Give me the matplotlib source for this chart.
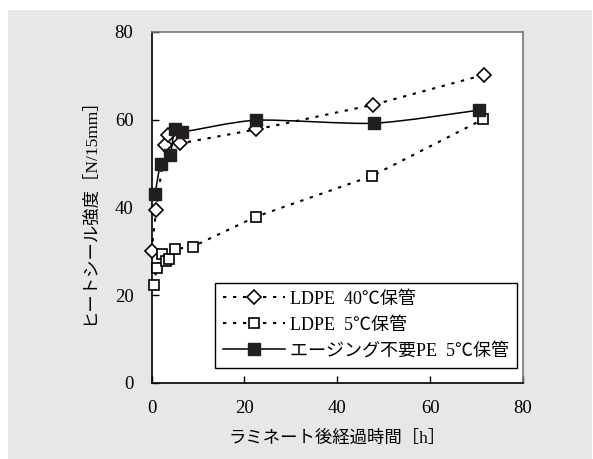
import numpy as np
import matplotlib
matplotlib.use("Agg")
import matplotlib.pyplot as plt
from matplotlib.patches import PathPatch
from matplotlib.path import Path
from matplotlib.lines import Line2D

plt.rcParams['font.family'] = ['Liberation Serif', 'Noto Sans CJK JP', 'DejaVu Sans']

# LDPE stored at 40 C
ldpe40_x = [0, 1, 2.9, 3.6, 6.1, 22.6, 47.7, 71.5]
ldpe40_y = [30, 39.5, 54.2, 56.5, 54.6, 57.8, 63.4, 70.2]

# LDPE stored at 5 C
ldpe5_x = [0.5, 1.1, 2.2, 3.1, 3.8, 5.1, 8.9, 22.5, 47.5, 71.4]
ldpe5_y = [22.3, 26.3, 29.4, 27.9, 28.2, 30.5, 31.1, 37.9, 47.2, 60.1]

# aging-free PE stored at 5 C
agefree_x = [0.75, 2.0, 4.0, 5.0, 6.5, 22.6, 47.9, 70.6]
agefree_y = [43.0, 50.0, 52.0, 58.0, 57.2, 59.9, 59.2, 62.2]

labels = ['LDPE  40℃保管', 'LDPE  5℃保管', 'エージング不要PE  5℃保管']
ticks = [0, 20, 40, 60, 80]


def smooth_path(xs, ys, t=0.12):
    # Excel-like smoothed line: cubic bezier through the points
    p = np.column_stack([xs, ys]).astype(float)
    verts = [p[0]]
    codes = [Path.MOVETO]
    n = len(p)
    for i in range(n - 1):
        p0 = p[i - 1] if i > 0 else p[i]
        p3 = p[i + 2] if i + 2 < n else p[i + 1]
        c1 = p[i] + (p[i + 1] - p0) * t
        c2 = p[i + 1] - (p3 - p[i]) * t
        verts += [c1, c2, p[i + 1]]
        codes += [Path.CURVE4] * 3
    return Path(verts, codes)


fig = plt.figure(figsize=(5.93, 4.59), dpi=100, facecolor='white')
bg = fig.add_axes([8 / 593, 0, 1 - 9 / 593, 1 - 10 / 459], facecolor='#e6e7e8')
bg.set_xticks([])
bg.set_yticks([])
for s in bg.spines.values():
    s.set_visible(False)
bg.set_zorder(-5)

ax = fig.add_axes([0.2555, 0.1656, 0.6265, 0.7647], facecolor='white')
ax.set_xlim(0, 80)
ax.set_ylim(0, 80)

dot = (0, (1.6, 3.2))
ax.plot(ldpe40_x, ldpe40_y, linestyle=dot, color='black', lw=1.5,
        marker='D', ms=7.3, mfc='white', mec='black', mew=1.2, zorder=3,
        clip_on=False)
ax.plot(ldpe5_x, ldpe5_y, linestyle=dot, color='black', lw=1.5,
        marker='s', ms=7.8, mfc='white', mec='black', mew=1.2, zorder=3,
        clip_on=False)
ax.add_patch(PathPatch(smooth_path(agefree_x, agefree_y), facecolor='none',
                       edgecolor='black', lw=1.1, zorder=4))
ax.plot(agefree_x, agefree_y, linestyle='none', marker='s', ms=8.5,
        mfc='#231f20', mec='#231f20', zorder=5, clip_on=False)

for s in ax.spines.values():
    s.set_linewidth(1.2)
ax.spines['top'].set_color('#777777')
ax.spines['right'].set_color('#777777')

ax.set_xticks(ticks)
ax.set_yticks(ticks)
ax.tick_params(direction='in', length=5, width=1, labelsize=13.5, pad=12,
               top=False, right=False)
ax.tick_params(axis='y', pad=13)

ax.set_xlabel('ラミネート後経過時間［h］', fontsize=12.5, labelpad=10)
ax.set_ylabel('ヒートシール強度［N/15mm］', fontsize=12.5, labelpad=12)

handles = [
    Line2D([], [], linestyle=dot, color='black', lw=1.5, marker='D', ms=7.3,
           mfc='white', mec='black', mew=1.2),
    Line2D([], [], linestyle=dot, color='black', lw=1.5, marker='s', ms=7.8,
           mfc='white', mec='black', mew=1.2),
    Line2D([], [], linestyle='-', color='black', lw=1.1, marker='s', ms=8.5,
           mfc='#231f20', mec='#231f20'),
]
leg = ax.legend(handles, labels, loc='lower right', bbox_to_anchor=(0.984, 0.043),
                borderaxespad=0, fontsize=13, frameon=True, fancybox=False,
                handlelength=3.4, handletextpad=0.3, borderpad=0.45,
                labelspacing=0.5, edgecolor='black', framealpha=1)
leg.get_frame().set_linewidth(1.0)

fig.savefig('out.png', dpi=100)
